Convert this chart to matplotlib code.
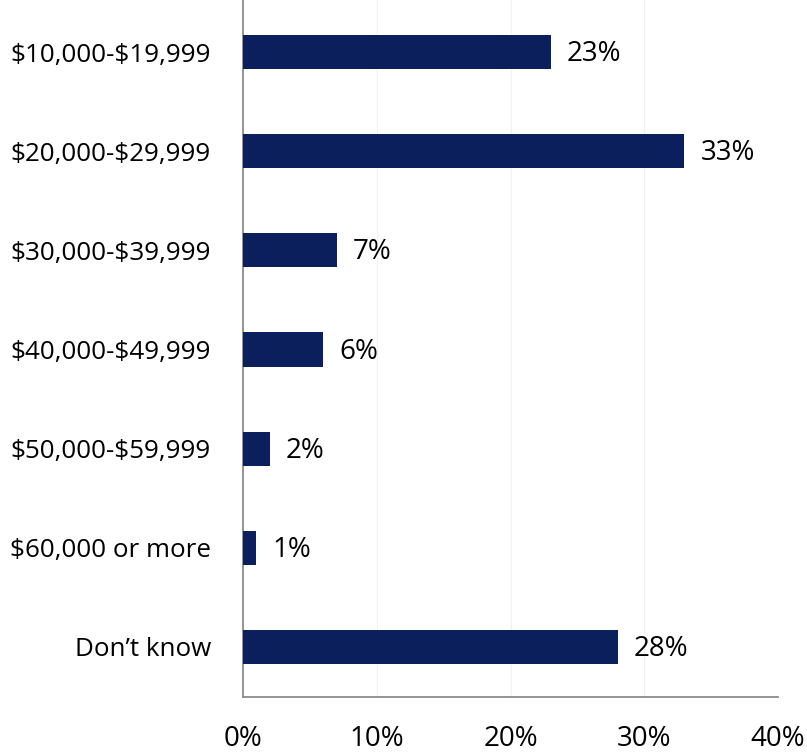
import matplotlib
matplotlib.use("Agg")
import matplotlib.pyplot as plt

categories = ["$10,000-$19,999", "$20,000-$29,999", "$30,000-$39,999",
              "$40,000-$49,999", "$50,000-$59,999", "$60,000 or more", "Don\u2019t know"]
values = [23, 33, 7, 6, 2, 1, 28]
xticks = [0, 10, 20, 30, 40]
xtick_labels = ["0%", "10%", "20%", "30%", "40%"]

plt.rcParams["font.family"] = ["Open Sans", "DejaVu Sans"]
plt.rcParams["text.parse_math"] = False

fig = plt.figure(figsize=(8.07, 7.55), dpi=100)
ax = fig.add_axes([243 / 807, 1 - 697 / 755, (778 - 243) / 807, 697 / 755])

navy = "#0a1f5c"
y = list(range(len(categories)))
ax.barh(y, values, height=0.345, color=navy, zorder=3)

for yi, v in zip(y, values):
    ax.annotate(f"{v}%", (v, yi), xytext=(11.5, -1.5), textcoords="offset points",
                va="center", ha="left", fontsize=20, color="black")

ax.set_xlim(0, 40)
ax.set_ylim(6.505, -0.525)
ax.set_yticks(y)
ax.set_yticklabels(categories, fontsize=18.7)
ax.set_xticks(xticks)
ax.set_xticklabels(xtick_labels, fontsize=20)
ax.tick_params(axis="y", length=0, pad=23)
ax.tick_params(axis="x", length=0, pad=20)

ax.grid(axis="x", color="#f2f2f2", linewidth=0.8, zorder=0)
for side in ("top", "right"):
    ax.spines[side].set_visible(False)
for side in ("left", "bottom"):
    ax.spines[side].set_color("#8c8c8c")
    ax.spines[side].set_linewidth(1.3)

fig.savefig("out.png", dpi=100)
